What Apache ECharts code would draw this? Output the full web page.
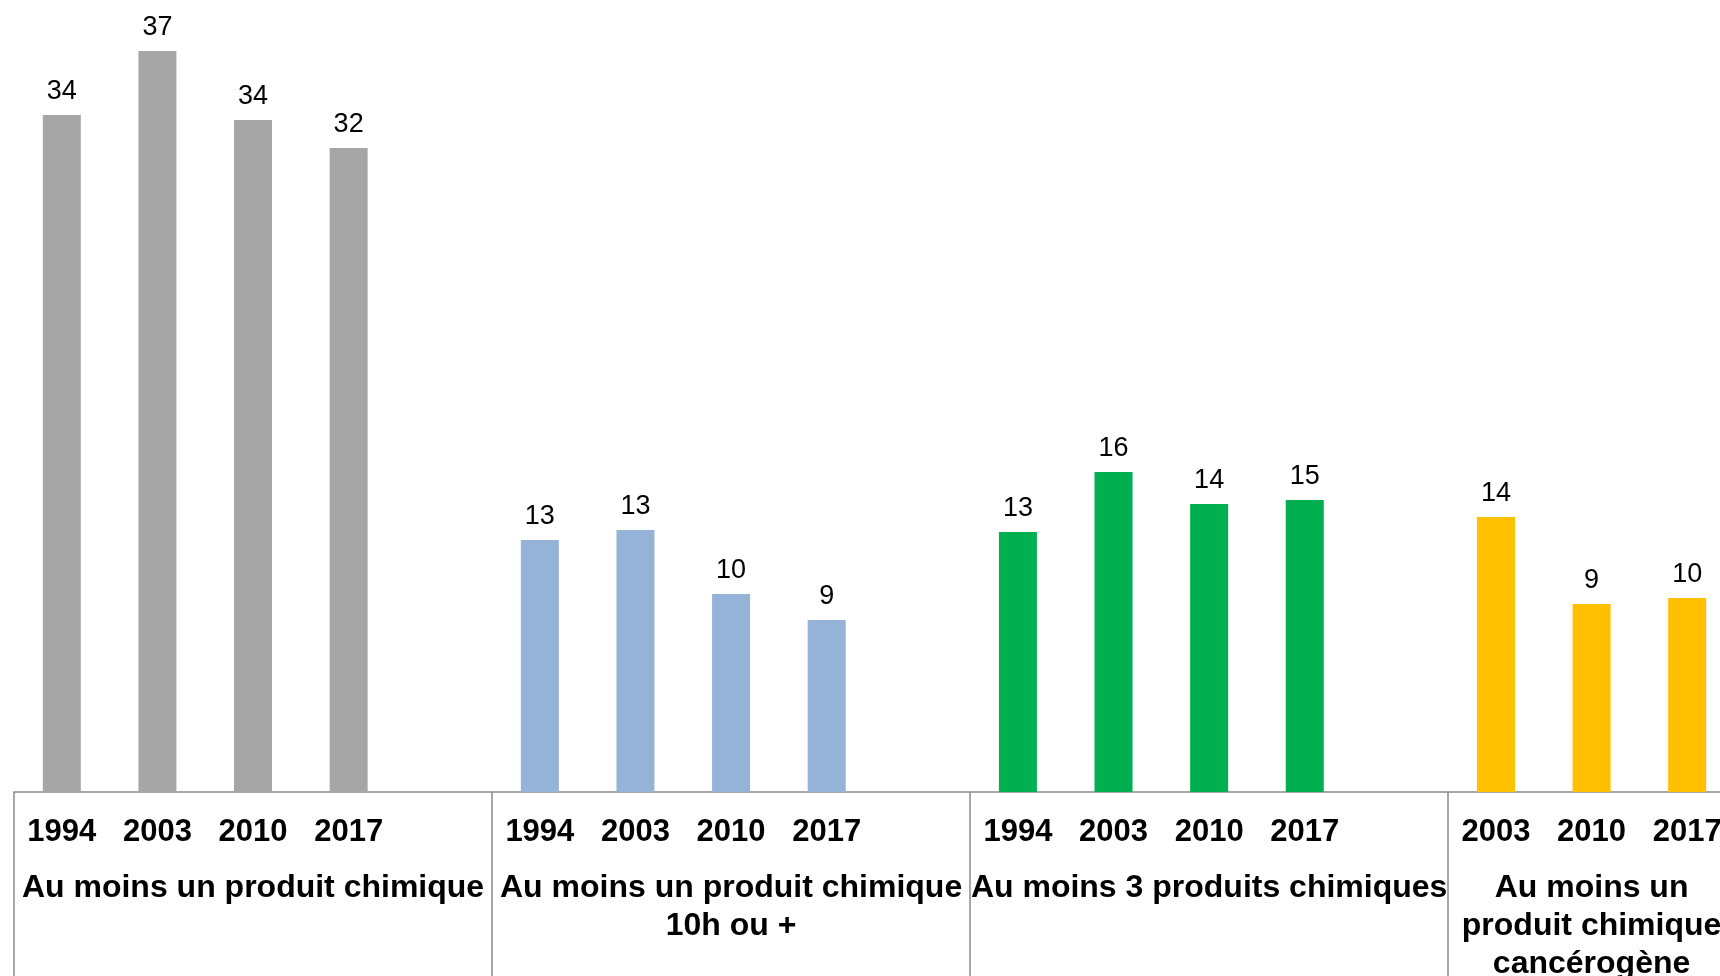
<!DOCTYPE html>
<html>
<head>
<meta charset="utf-8">
<title>Produits chimiques</title>
<script src="https://cdn.jsdelivr.net/npm/echarts@6/dist/echarts.min.js"></script>
<style>
  html, body { margin: 0; padding: 0; background: #fff; }
  #chart { width: 1720px; height: 976px; }
</style>
</head>
<body>
<div id="chart"></div>
<script>
// data
const groupNames = [
  'Au moins un produit chimique',
  'Au moins un produit chimique\n10h ou +',
  'Au moins 3 produits chimiques',
  'Au moins un\nproduit chimique\ncancérogène'
]
const yearsLong = ['1994', '2003', '2010', '2017']
const yearsShort = ['2003', '2010', '2017']

const valuesChimique = [33.85, 37.05, 33.6, 32.2]
const values10h = [12.6, 13.1, 9.9, 8.6]
const values3Produits = [13.0, 16.0, 14.4, 14.6]
const valuesCancerogene = [13.75, 9.4, 9.7]

const groupColors = ['#a6a6a6', '#95b3d7', '#00b050', '#ffc000']

// each group: its years, its values, and whether an empty slot follows it
const groups = [
  { years: yearsLong, values: valuesChimique, gap: true },
  { years: yearsLong, values: values10h, gap: true },
  { years: yearsLong, values: values3Produits, gap: true },
  { years: yearsShort, values: valuesCancerogene, gap: false }
]

const categories = []
const bounds = [0]
groups.forEach(g => {
  g.years.forEach(y => categories.push(y))
  if (g.gap) categories.push('')
  bounds.push(categories.length)
})
const centers = groups.map((g, i) => (bounds[i] + bounds[i + 1]) / 2)

const font = 'Liberation Sans, Arial, sans-serif'

const series = groups.map((g, i) => {
  const data = categories.map(() => '-')
  g.values.forEach((v, j) => { data[bounds[i] + j] = v })
  return {
    type: 'bar',
    data: data,
    barWidth: 38,
    barGap: '-100%',
    itemStyle: { color: groupColors[i] },
    label: {
      show: true,
      position: 'top',
      distance: 10,
      color: '#000',
      fontSize: 27,
      lineHeight: 27,
      fontFamily: font,
      formatter: p => Math.round(p.value)
    },
    emphasis: { disabled: true }
  }
})

const myChart = echarts.init(document.getElementById('chart'))
myChart.setOption({
  animation: false,
  grid: { left: 14, top: 32, width: 1721, bottom: 184, containLabel: false, outerBoundsMode: 'none' },
  xAxis: [
    {
      type: 'category',
      data: categories,
      position: 'bottom',
      axisLine: { show: true, lineStyle: { color: '#8c8c8c', width: 1.5 } },
      axisTick: { show: false },
      axisLabel: {
        interval: 0,
        margin: 25,
        color: '#000',
        fontSize: 31,
        lineHeight: 31,
        fontWeight: 'bold',
        fontFamily: font
      }
    },
    {
      type: 'value',
      position: 'bottom',
      min: 0,
      max: categories.length,
      splitLine: { show: false },
      axisLine: { show: false },
      axisTick: {
        show: true,
        customValues: bounds,
        length: 184,
        lineStyle: { color: '#8c8c8c', width: 1.5 }
      },
      axisLabel: {
        customValues: centers,
        margin: 77,
        color: '#000',
        fontSize: 32,
        lineHeight: 38,
        fontWeight: 'bold',
        fontFamily: font,
        align: 'center',
        formatter: v => groupNames[centers.indexOf(v)] || ''
      }
    }
  ],
  yAxis: { type: 'value', min: 0, max: 38, show: false },
  series: series
})
</script>
</body>
</html>
